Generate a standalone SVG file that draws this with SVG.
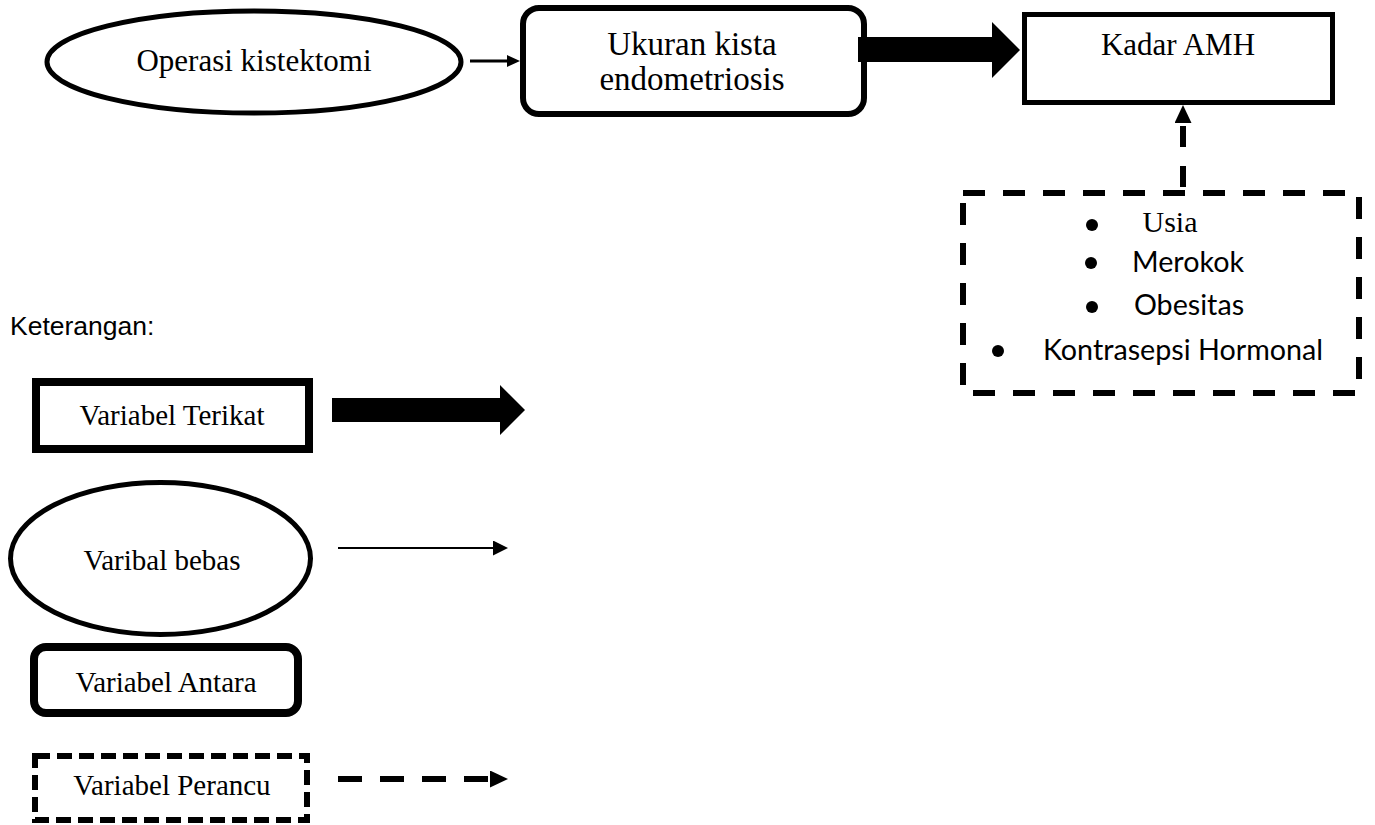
<svg xmlns="http://www.w3.org/2000/svg" width="1375" height="825" viewBox="0 0 1375 825">
  <style>
    .serif { font-family: "Liberation Serif", "Times New Roman", serif; fill: #000; }
    .sans { font-family: Lato, "Open Sans", sans-serif; fill: #000; }
    .arial { font-family: "Liberation Sans", Arial, sans-serif; fill: #000; }
    .node { fill: #fff; stroke: #000; }
    .dash-main { fill: none; stroke: #000; stroke-width: 6; stroke-dasharray: 22 18; }
    .dash-leg { fill: none; stroke: #000; stroke-width: 6; stroke-dasharray: 15 7; }
  </style>
  <defs>
    <marker id="thinHead" viewBox="0 0 13 12" refX="0" refY="6" markerWidth="13" markerHeight="12" markerUnits="userSpaceOnUse" orient="auto">
      <path d="M0,0 L13,6 L0,12 Z" fill="#000"/>
    </marker>
    <marker id="legThinHead" viewBox="0 0 15 15" refX="0" refY="7.5" markerWidth="15" markerHeight="15" markerUnits="userSpaceOnUse" orient="auto">
      <path d="M0,0 L15,7.5 L0,15 Z" fill="#000"/>
    </marker>
    <marker id="dashHead" viewBox="0 0 18 17" refX="0" refY="8.5" markerWidth="18" markerHeight="17" markerUnits="userSpaceOnUse" orient="auto">
      <path d="M0,0 L18,8.5 L0,17 Z" fill="#000"/>
    </marker>
  </defs>

  <rect x="0" y="0" width="1375" height="825" fill="#fff"/>

  <!-- Main nodes -->
  <g id="node-operasi">
    <ellipse class="node" cx="254" cy="62" rx="207" ry="51" stroke-width="5"/>
    <text class="serif" x="254" y="71" font-size="31" text-anchor="middle">Operasi kistektomi</text>
  </g>

  <g id="node-ukuran">
    <rect class="node" x="523" y="8" width="341" height="106" rx="16" ry="16" stroke-width="6"/>
    <text class="serif" x="692" y="55" font-size="33" text-anchor="middle">Ukuran kista</text>
    <text class="serif" x="692" y="90" font-size="33" text-anchor="middle">endometriosis</text>
  </g>

  <g id="node-kadar">
    <rect class="node" x="1024.5" y="14.5" width="308" height="88" stroke-width="5"/>
    <text class="serif" x="1178" y="55" font-size="31" text-anchor="middle">Kadar AMH</text>
  </g>

  <g id="node-perancu-main">
    <rect class="dash-main" x="963" y="193" width="396" height="200"/>
    <circle cx="1092" cy="225" r="6" fill="#000"/>
    <text class="serif" x="1170" y="232" font-size="30" text-anchor="middle">Usia</text>
    <circle cx="1091" cy="263" r="6" fill="#000"/>
    <text class="sans" x="1188" y="272" font-size="28.7" text-anchor="middle">Merokok</text>
    <circle cx="1092" cy="307" r="6" fill="#000"/>
    <text class="sans" x="1189" y="315" font-size="28.7" text-anchor="middle">Obesitas</text>
    <circle cx="998" cy="351" r="6" fill="#000"/>
    <text class="sans" x="1183" y="360" font-size="28.7" text-anchor="middle">Kontrasepsi Hormonal</text>
  </g>

  <!-- Connectors -->
  <g id="connectors">
    <line x1="470" y1="61" x2="507" y2="61" stroke="#000" stroke-width="3" marker-end="url(#thinHead)"/>
    <path d="M858,37 L992,37 L992,22 L1020,50 L992,78 L992,62 L858,62 Z" fill="#000"/>
    <line x1="1183" y1="187" x2="1183" y2="123" stroke="#000" stroke-width="6" stroke-dasharray="21 19" marker-end="url(#dashHead)"/>
  </g>

  <!-- Legend -->
  <g id="legend-title">
    <text class="arial" x="10" y="335" font-size="26.5">Keterangan:</text>
  </g>

  <g id="legend-terikat">
    <rect class="node" x="36" y="382" width="273" height="67" stroke-width="8"/>
    <text class="serif" x="172" y="425" font-size="29" text-anchor="middle">Variabel Terikat</text>
    <path d="M332,398 L500,398 L500,385 L525,410 L500,435 L500,422 L332,422 Z" fill="#000"/>
  </g>

  <g id="legend-bebas">
    <ellipse class="node" cx="160.5" cy="558.5" rx="150" ry="76" stroke-width="5"/>
    <text class="serif" x="162" y="570" font-size="29" text-anchor="middle">Varibal bebas</text>
    <line x1="338" y1="548" x2="493" y2="548" stroke="#000" stroke-width="2" marker-end="url(#legThinHead)"/>
  </g>

  <g id="legend-antara">
    <rect class="node" x="34" y="647" width="264" height="66" rx="12" ry="12" stroke-width="8"/>
    <text class="serif" x="166" y="692" font-size="29" text-anchor="middle">Variabel Antara</text>
  </g>

  <g id="legend-perancu">
    <rect class="dash-leg" x="35" y="756" width="272" height="64"/>
    <text class="serif" x="172" y="795" font-size="29" text-anchor="middle">Variabel Perancu</text>
    <line x1="338" y1="779" x2="490" y2="779" stroke="#000" stroke-width="6" stroke-dasharray="24 18" marker-end="url(#dashHead)"/>
  </g>
</svg>
